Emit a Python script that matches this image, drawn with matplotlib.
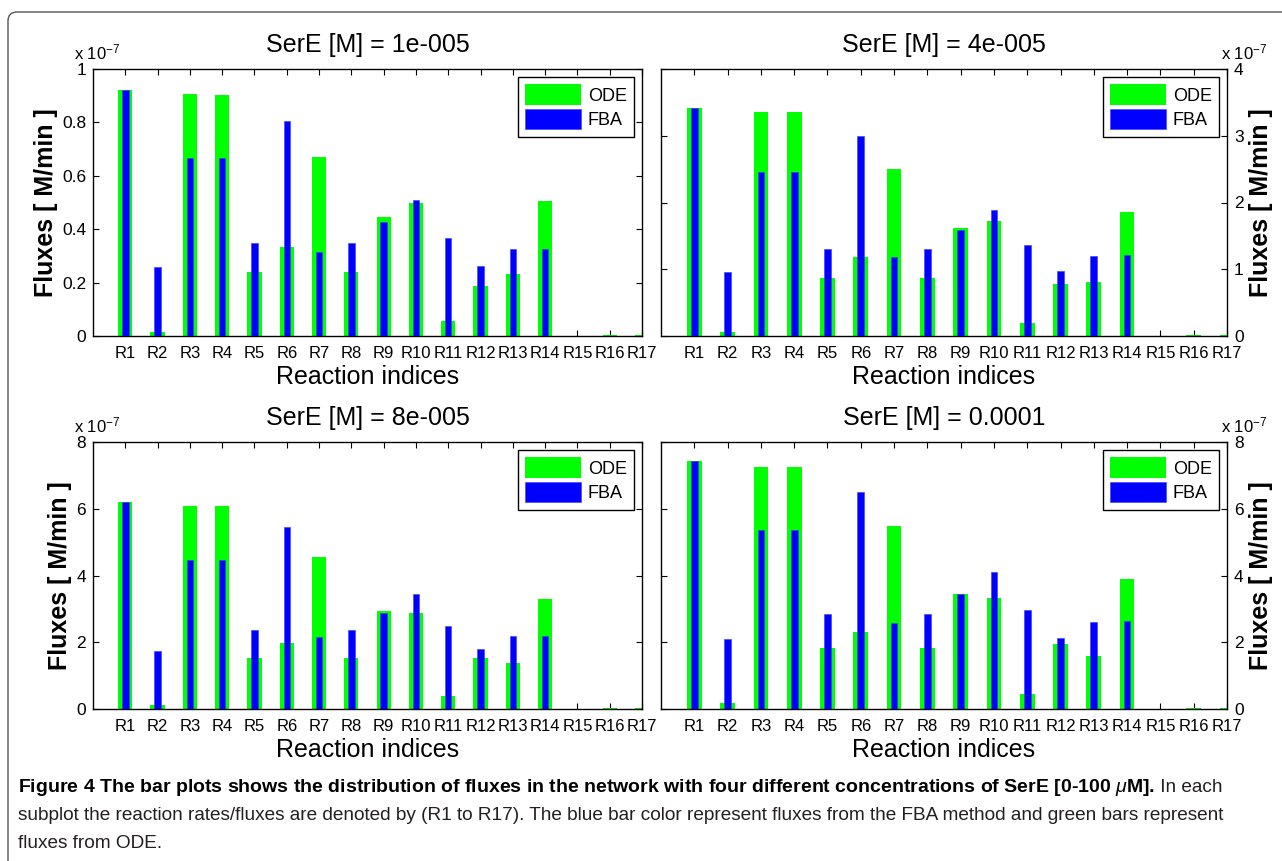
import matplotlib
matplotlib.use('Agg')
import matplotlib.pyplot as plt
from matplotlib.patches import FancyBboxPatch
from matplotlib.transforms import IdentityTransform
import numpy as np

# reaction labels
reactions = ['R%d' % i for i in range(1, 18)]

# fluxes in units of 1e-7 M/min
ode_1e5 = [0.92, 0.015, 0.907, 0.903, 0.238, 0.334, 0.67, 0.238, 0.447, 0.498,
           0.056, 0.188, 0.233, 0.507, 0.0, 0.005, 0.005]
fba_1e5 = [0.92, 0.26, 0.665, 0.665, 0.35, 0.806, 0.316, 0.35, 0.428, 0.509,
           0.366, 0.263, 0.326, 0.326, 0.0, 0.0, 0.0]

ode_4e5 = [3.41, 0.06, 3.35, 3.35, 0.875, 1.18, 2.50, 0.875, 1.62, 1.73,
           0.20, 0.775, 0.81, 1.855, 0.0, 0.02, 0.02]
fba_4e5 = [3.41, 0.955, 2.46, 2.46, 1.30, 2.99, 1.18, 1.30, 1.59, 1.89,
           1.36, 0.975, 1.20, 1.22, 0.0, 0.0, 0.0]

ode_8e5 = [6.2, 0.13, 6.08, 6.08, 1.54, 1.98, 4.54, 1.54, 2.94, 2.88,
           0.38, 1.54, 1.37, 3.29, 0.0, 0.04, 0.04]
fba_8e5 = [6.2, 1.74, 4.46, 4.46, 2.37, 5.44, 2.15, 2.37, 2.89, 3.46,
           2.48, 1.79, 2.20, 2.20, 0.0, 0.0, 0.0]

ode_1e4 = [7.42, 0.18, 7.26, 7.26, 1.84, 2.31, 5.48, 1.84, 3.46, 3.34,
           0.46, 1.95, 1.59, 3.90, 0.0, 0.04, 0.04]
fba_1e4 = [7.42, 2.09, 5.36, 5.36, 2.85, 6.50, 2.57, 2.85, 3.46, 4.10,
           2.97, 2.12, 2.61, 2.65, 0.0, 0.0, 0.0]

titles = ['SerE [M] = 1e-005', 'SerE [M] = 4e-005',
          'SerE [M] = 8e-005', 'SerE [M] = 0.0001']

plt.rcParams['font.family'] = ['Liberation Sans', 'DejaVu Sans']
plt.rcParams['mathtext.fontset'] = 'custom'
plt.rcParams['mathtext.rm'] = 'Liberation Sans'
plt.rcParams['mathtext.it'] = 'Liberation Sans:italic'
plt.rcParams['mathtext.bf'] = 'Liberation Sans:bold'

GREEN = '#00ff00'
BLUE = '#0000ff'


def draw_panel(ax, ode, fba, ymax, yticks, ytlabels, title, right=False):
    x = np.arange(1, len(reactions) + 1)
    ax.bar(x, ode, width=0.44, color=GREEN, edgecolor='none', label='ODE', zorder=2)
    ax.bar(x, fba, width=0.2, color=BLUE, edgecolor='#3a3aff', linewidth=0.4,
           label='FBA', zorder=3)
    ax.set_xlim(0, 17)
    ax.set_ylim(0, ymax)
    ax.set_xticks(x)
    ax.set_xticklabels(reactions, fontsize=12)
    ax.set_yticks(yticks)
    ax.set_yticklabels(ytlabels, fontsize=12.5)
    ax.tick_params(direction='in', length=4, width=0.8, top=True, right=True,
                   left=True, bottom=True)
    ax.tick_params(axis='x', pad=7)
    ax.tick_params(axis='y', pad=5)
    if right:
        ax.yaxis.tick_right()
        ax.tick_params(axis='y', left=True, direction='in')
        ax.yaxis.set_label_position('right')
    for s in ax.spines.values():
        s.set_linewidth(1.0)
    ax.set_title(title, fontsize=18, pad=12)
    ax.set_xlabel('Reaction indices', fontsize=18, labelpad=3)
    ax.set_ylabel('Fluxes [ M/min ]', fontsize=18, fontweight='bold',
                  labelpad=4 if right else 3)
    if right:
        ax.text(0.99, 1.025, r'x 10$^{-7}$', transform=ax.transAxes, fontsize=12,
                ha='left', va='bottom')
    else:
        ax.text(-0.035, 1.025, r'x 10$^{-7}$', transform=ax.transAxes, fontsize=12,
                ha='left', va='bottom')
    leg = ax.legend(loc='upper right', fontsize=13, handlelength=3.1, handleheight=1.35,
                    handletextpad=0.35, labelspacing=0.25, borderpad=0.4,
                    borderaxespad=0.45, fancybox=False, framealpha=1)
    leg.get_frame().set_edgecolor('black')
    leg.get_frame().set_linewidth(1.0)


fig = plt.figure(figsize=(12.82, 8.61), dpi=100)

# outer rounded frame (runs off the right and bottom edges)
frame = FancyBboxPatch((8, -30), 1320, 861 - 12 + 30, boxstyle='round,pad=0,rounding_size=9',
                       transform=IdentityTransform(), facecolor='none',
                       edgecolor='#555555', linewidth=1.0)
fig.patches.append(frame)

W, H = 1282.0, 861.0
ax1 = fig.add_axes([93 / W, 1 - 336 / H, 549 / W, 267 / H])
ax2 = fig.add_axes([661 / W, 1 - 336 / H, 566 / W, 267 / H])
ax3 = fig.add_axes([93 / W, 1 - 709 / H, 549 / W, 267 / H])
ax4 = fig.add_axes([661 / W, 1 - 709 / H, 566 / W, 267 / H])

draw_panel(ax1, ode_1e5, fba_1e5, 1, [0, 0.2, 0.4, 0.6, 0.8, 1],
           ['0', '0.2', '0.4', '0.6', '0.8', '1'], titles[0])
draw_panel(ax2, ode_4e5, fba_4e5, 4, [0, 1, 2, 3, 4],
           ['0', '1', '2', '3', '4'], titles[1], right=True)
draw_panel(ax3, ode_8e5, fba_8e5, 8, [0, 2, 4, 6, 8],
           ['0', '2', '4', '6', '8'], titles[2])
draw_panel(ax4, ode_1e4, fba_1e4, 8, [0, 2, 4, 6, 8],
           ['0', '2', '4', '6', '8'], titles[3], right=True)

# caption: bold lead-in followed by regular text
CAP_B = 14.0
CAP = 13.7
TXT = '#231f20'
cap_bold = 'Figure 4 The bar plots shows the distribution of fluxes in the network with four different concentrations of SerE [0-100 $\\mathit{\\mu}$M].'
cap_rest = ' In each'
line2 = 'subplot the reaction rates/fluxes are denoted by (R1 to R17). The blue bar color represent fluxes from the FBA method and green bars represent'
line3 = 'fluxes from ODE.'
x0 = 18 / W
t1 = fig.text(x0, 1 - 788 / H, cap_bold, fontsize=CAP_B, fontweight='bold', va='center',
              ha='left', color='black')
fig.canvas.draw()
bb = t1.get_window_extent(renderer=fig.canvas.get_renderer())
fig.text(bb.x1 / W, 1 - 788 / H, cap_rest, fontsize=CAP, va='center', ha='left', color=TXT)
fig.text(x0, 1 - 816 / H, line2, fontsize=CAP, va='center', ha='left', color=TXT)
fig.text(x0, 1 - 843 / H, line3, fontsize=CAP, va='center', ha='left', color=TXT)

fig.savefig('out.png', dpi=100)
plt.close()
